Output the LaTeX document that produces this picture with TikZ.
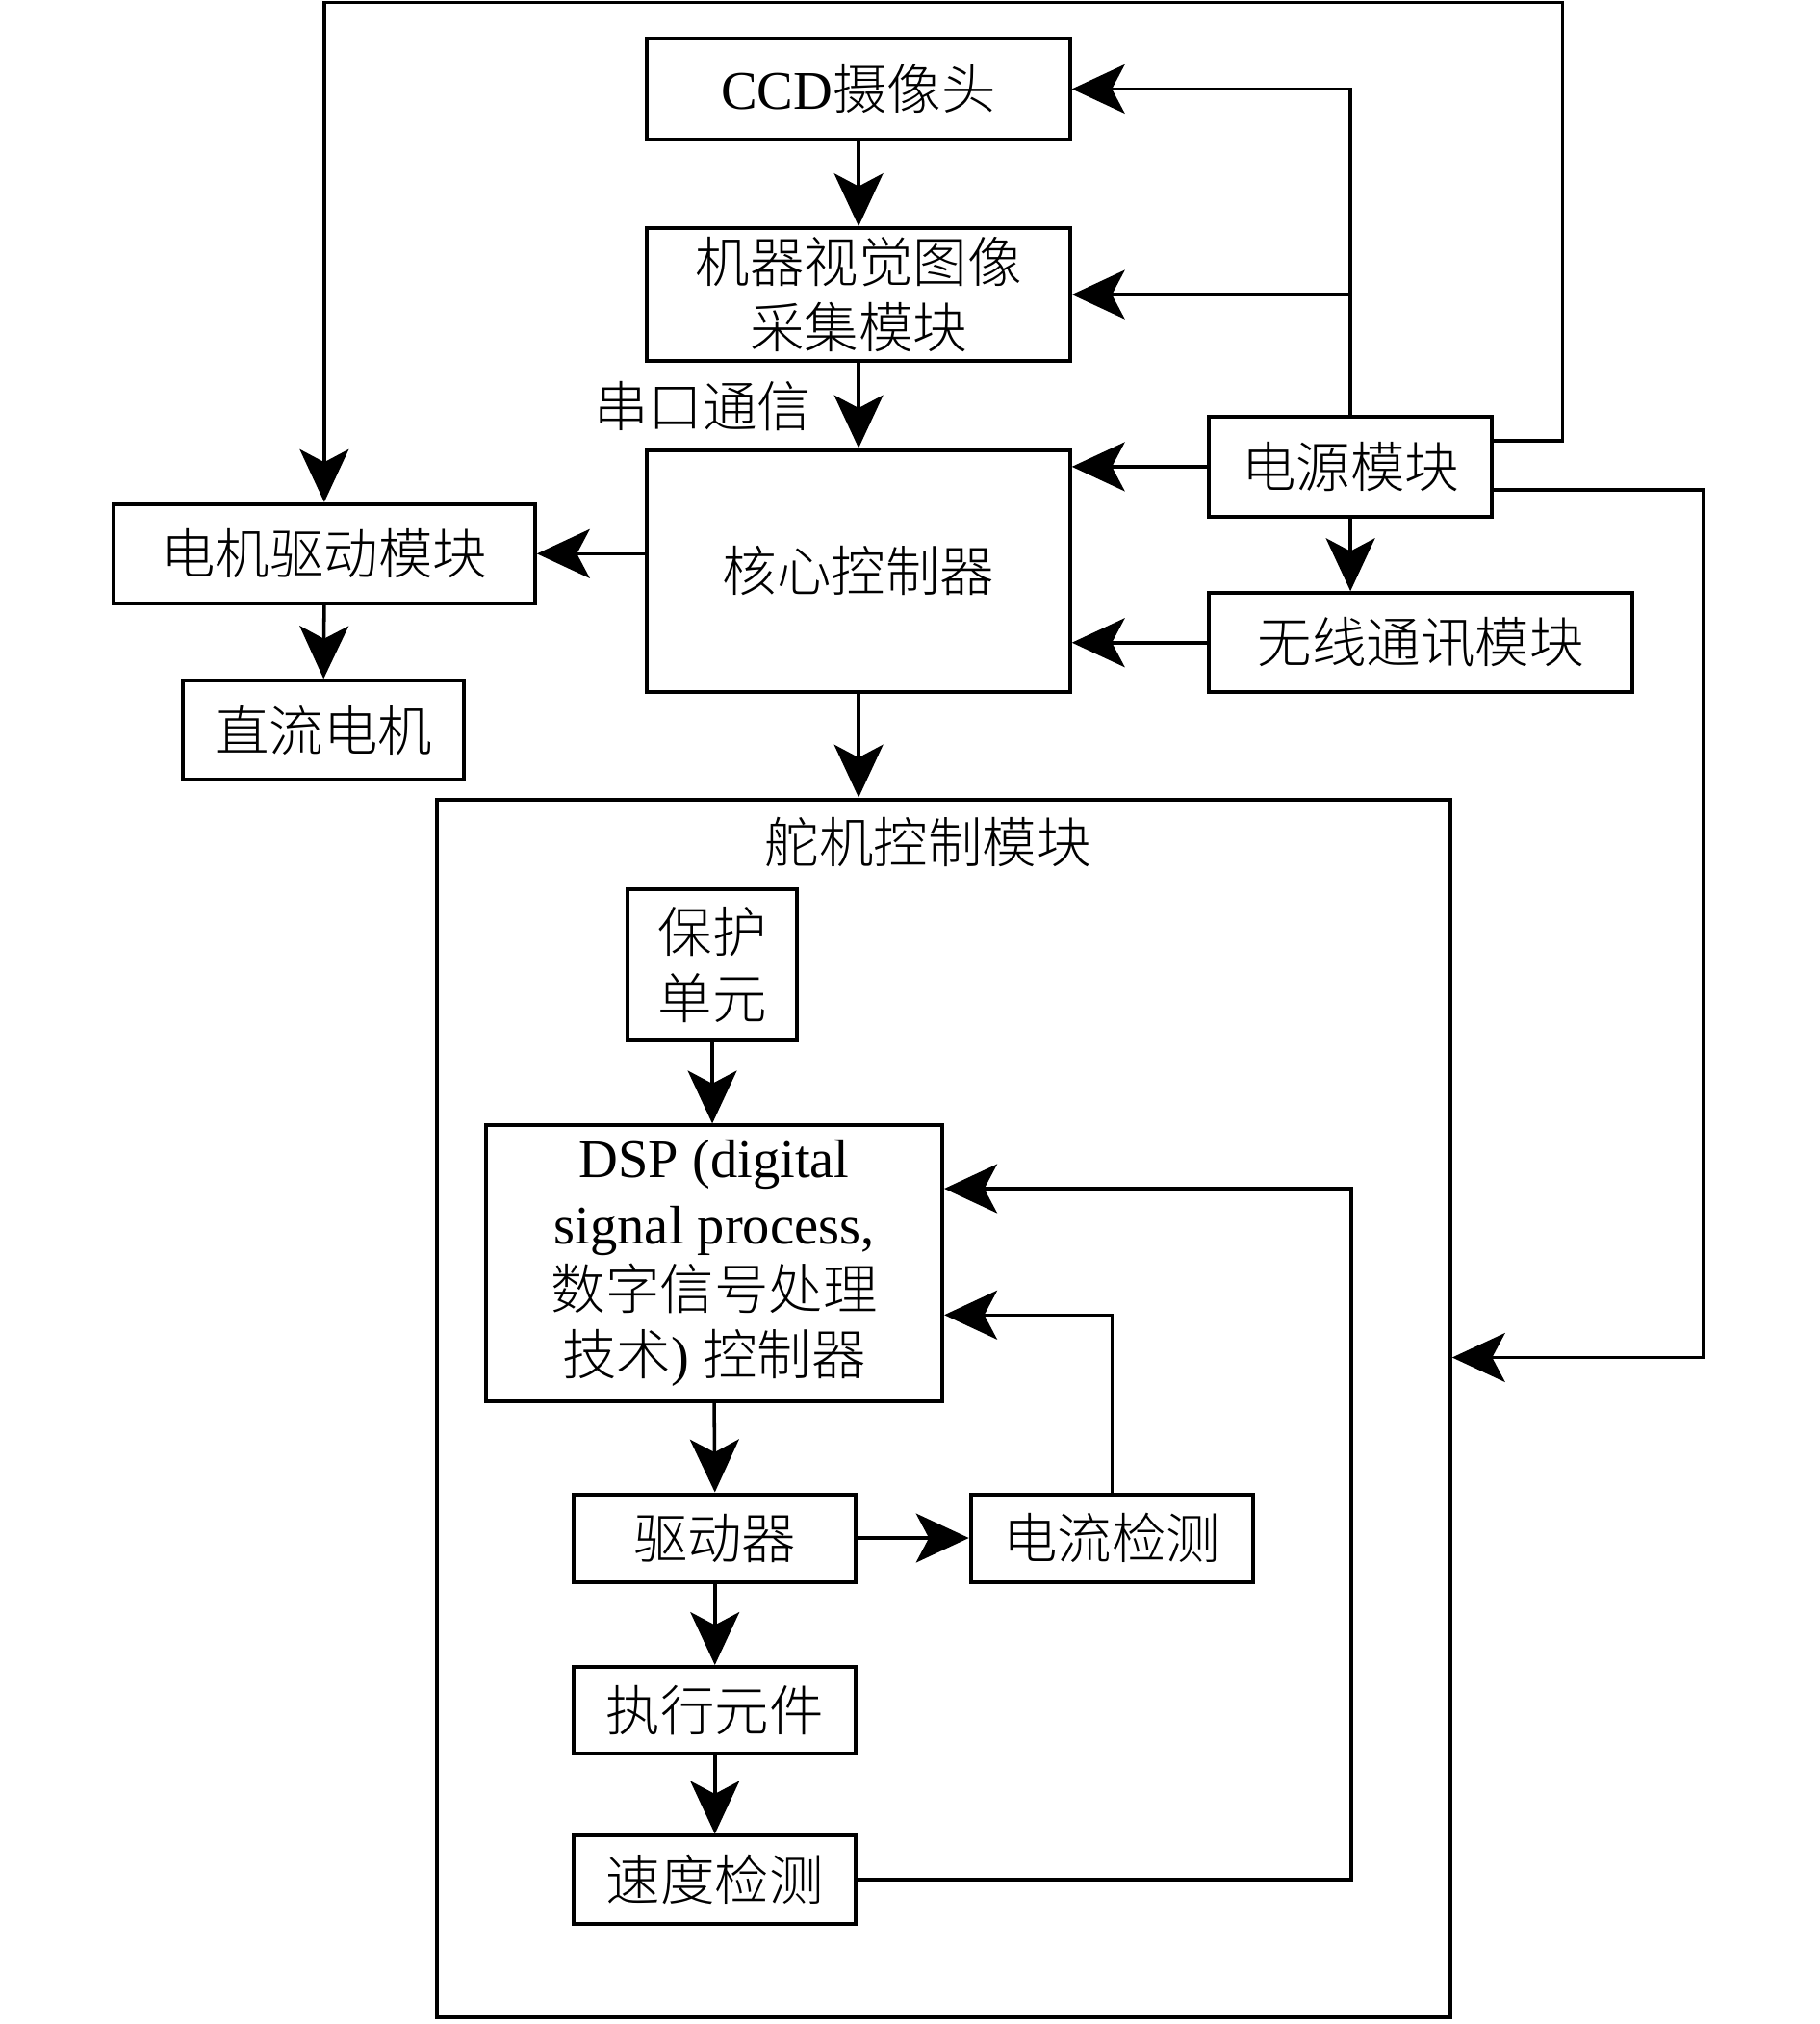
\documentclass[tikz,border=0pt]{standalone}
\usepackage{fontspec}
\setmainfont{Liberation Serif}
\newfontfamily\cjk{Noto Sans CJK SC Light}
\usetikzlibrary{arrows.meta,calc}
\tikzset{
  box/.style={draw,line width=1.7pt,inner sep=0pt,align=center,font=\fontsize{24}{29}\selectfont},
  lab/.style={inner sep=0pt,align=center,font=\fontsize{24}{29}\selectfont},
  conn/.style={line width=1.5pt},
  arr/.style={conn,-{Stealth[length=0.82cm,width=0.76cm,inset=0.2cm]}},
}
\begin{document}
\begin{tikzpicture}[x=0.02cm,y=-0.02cm]
\useasboundingbox (0,0) rectangle (1411,1570);
% top part
\node[box,minimum width=6.56cm,minimum height=1.56cm] (ccd) at (666,69) {CCD{\cjk 摄像头}};
\node[box,minimum width=6.56cm,minimum height=2.06cm] (mv) at (666,228.5) {\cjk 机器视觉图像\\\cjk 采集模块};
\node[box,minimum width=6.56cm,minimum height=3.76cm] (core) at (666,443) {\cjk 核心控制器};
\node[box,minimum width=4.38cm,minimum height=1.56cm] (power) at (1047.5,362) {\cjk 电源模块};
\node[box,minimum width=6.56cm,minimum height=1.54cm] (wifi) at (1102,498.5) {\cjk 无线通讯模块};
\node[box,minimum width=6.54cm,minimum height=1.54cm] (mdrv) at (251.5,429.5) {\cjk 电机驱动模块};
\node[box,minimum width=4.36cm,minimum height=1.54cm] (dcm) at (251,566.5) {\cjk 直流电机};
\node[lab] (serial) at (545,315) {\cjk 串口通信};
% servo module
\node[box,minimum width=15.72cm,minimum height=18.9cm] (big) at (732,1092.5) {};
\node[lab] (bigl) at (720,653) {\cjk 舵机控制模块};
\node[box,minimum width=2.62cm,minimum height=2.34cm] (prot) at (552.5,748.5) {\cjk 保护\\\cjk 单元};
\node[box,minimum width=7.08cm,minimum height=4.28cm] (dsp) at (554,980) {DSP (digital\\signal process,\\{\cjk 数字信号处理}\\{\cjk 技术}) {\cjk 控制器}};
\node[box,minimum width=4.38cm,minimum height=1.36cm] (drv) at (554.5,1193) {\cjk 驱动器};
\node[box,minimum width=4.38cm,minimum height=1.36cm] (cur) at (862.5,1193) {\cjk 电流检测};
\node[box,minimum width=4.38cm,minimum height=1.34cm] (act) at (554.5,1326.5) {\cjk 执行元件};
\node[box,minimum width=4.38cm,minimum height=1.36cm] (spd) at (554.5,1458) {\cjk 速度检测};
% coordinates
\coordinate (tr) at (1212,2);
\coordinate (rr) at (1321,1053);
\coordinate (fb1) at (1048,922);
\coordinate (fb2) at (862.5,1020);
% connectors
\draw[arr] (ccd) -- (mv);
\draw[arr] (mv) -- (core);
\draw[arr] (core.south) -- (big.north -| core.south);
\draw[arr] (power.north) |- (ccd.east);
\draw[arr] (power.north |- mv.east) -- (mv.east);
\draw[arr] (power.west) -- (core.east |- power.west);
\draw[arr] (power.south) -- (power.south |- wifi.north);
\draw[arr] (wifi.west) -- (core.east |- wifi.west);
\draw[arr] (mdrv.east -| core.west) -- (mdrv.east);
\draw[arr] (mdrv.south) -- (dcm.north);
\draw[arr] (power.east |- 0,342) -| (tr) -| (mdrv.north);
\draw[arr] (power.east |- 0,380) -| (rr) -- (big.east |- rr);
% inside
\draw[arr] (prot.south) -- (prot.south |- dsp.north);
\draw[arr] (dsp.south) -- (drv.north);
\draw[arr] (drv.east) -- (cur.west);
\draw[arr] (drv) -- (act);
\draw[arr] (act) -- (spd);
\draw[arr] (spd.east) -| (fb1) -- (dsp.east |- fb1);
\draw[arr] (cur.north) |- (dsp.east |- fb2);
\end{tikzpicture}
\end{document}
